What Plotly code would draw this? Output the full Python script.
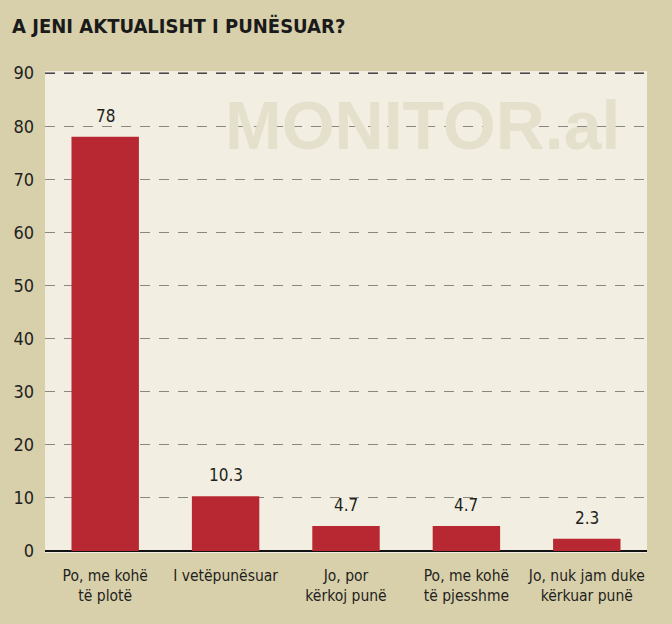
import plotly.graph_objects as go

categories = ["Po, me kohë<br>të plotë", "I vetëpunësuar", "Jo, por<br>kërkoj punë",
              "Po, me kohë<br>të pjesshme", "Jo, nuk jam duke<br>kërkuar punë"]
values = [78, 10.3, 4.7, 4.7, 2.3]
value_labels = ["78", "10.3", "4.7", "4.7", "2.3"]
tick_vals = [0, 10, 20, 30, 40, 50, 60, 70, 80, 90]

FONT = "DejaVu Sans Condensed, Liberation Sans Narrow, sans-serif"

fig = go.Figure()
fig.add_trace(go.Bar(
    x=categories, y=values,
    marker=dict(color="#b72832", line=dict(width=0)),
))

for c, v, lab in zip(categories, values, value_labels):
    fig.add_annotation(x=c, y=v, text=lab, showarrow=False, yanchor="bottom",
                       yshift=9, font=dict(family=FONT, size=17, color="#231f20"))

fig.add_shape(type="line", xref="paper", yref="y", x0=0, x1=1, y0=90, y1=90,
              line=dict(color="#333333", width=1.2, dash="10px,9px"), layer="above")

fig.add_annotation(text="MONITOR.al", xref="paper", yref="paper", x=0.958, y=0.888,
                   xanchor="right", yanchor="middle", showarrow=False,
                   font=dict(family="Liberation Sans, Arial, sans-serif", size=68,
                             color="#e5e0cc", weight="bold"))

fig.update_layout(
    width=672, height=624,
    margin=dict(l=45, r=25, t=71, b=71),
    paper_bgcolor="#d8cfab", plot_bgcolor="#f2efe2",
    bargap=0.44, showlegend=False,
    title=dict(text="<b>A JENI AKTUALISHT I PUNËSUAR?</b>", x=0.018, xanchor="left",
               y=0.958, yanchor="middle",
               font=dict(family=FONT, size=20, color="#1a1a1a")),
    font=dict(family=FONT, color="#231f20"),
)
fig.update_xaxes(showgrid=False, showline=False, ticks="",
                 tickfont=dict(family=FONT, size=15.5, color="#231f20"),
                 ticklabelstandoff=11)
fig.update_yaxes(range=[-0.4, 90.4], tickvals=tick_vals, showgrid=True,
                 gridcolor="#8a8780", griddash="10px,9px", gridwidth=1.2,
                 zeroline=True, zerolinecolor="#111111", zerolinewidth=1.5,
                 tickfont=dict(family=FONT, size=18, color="#231f20"),
                 ticks="", ticklabelstandoff=10)
fig.write_html("out.html")
